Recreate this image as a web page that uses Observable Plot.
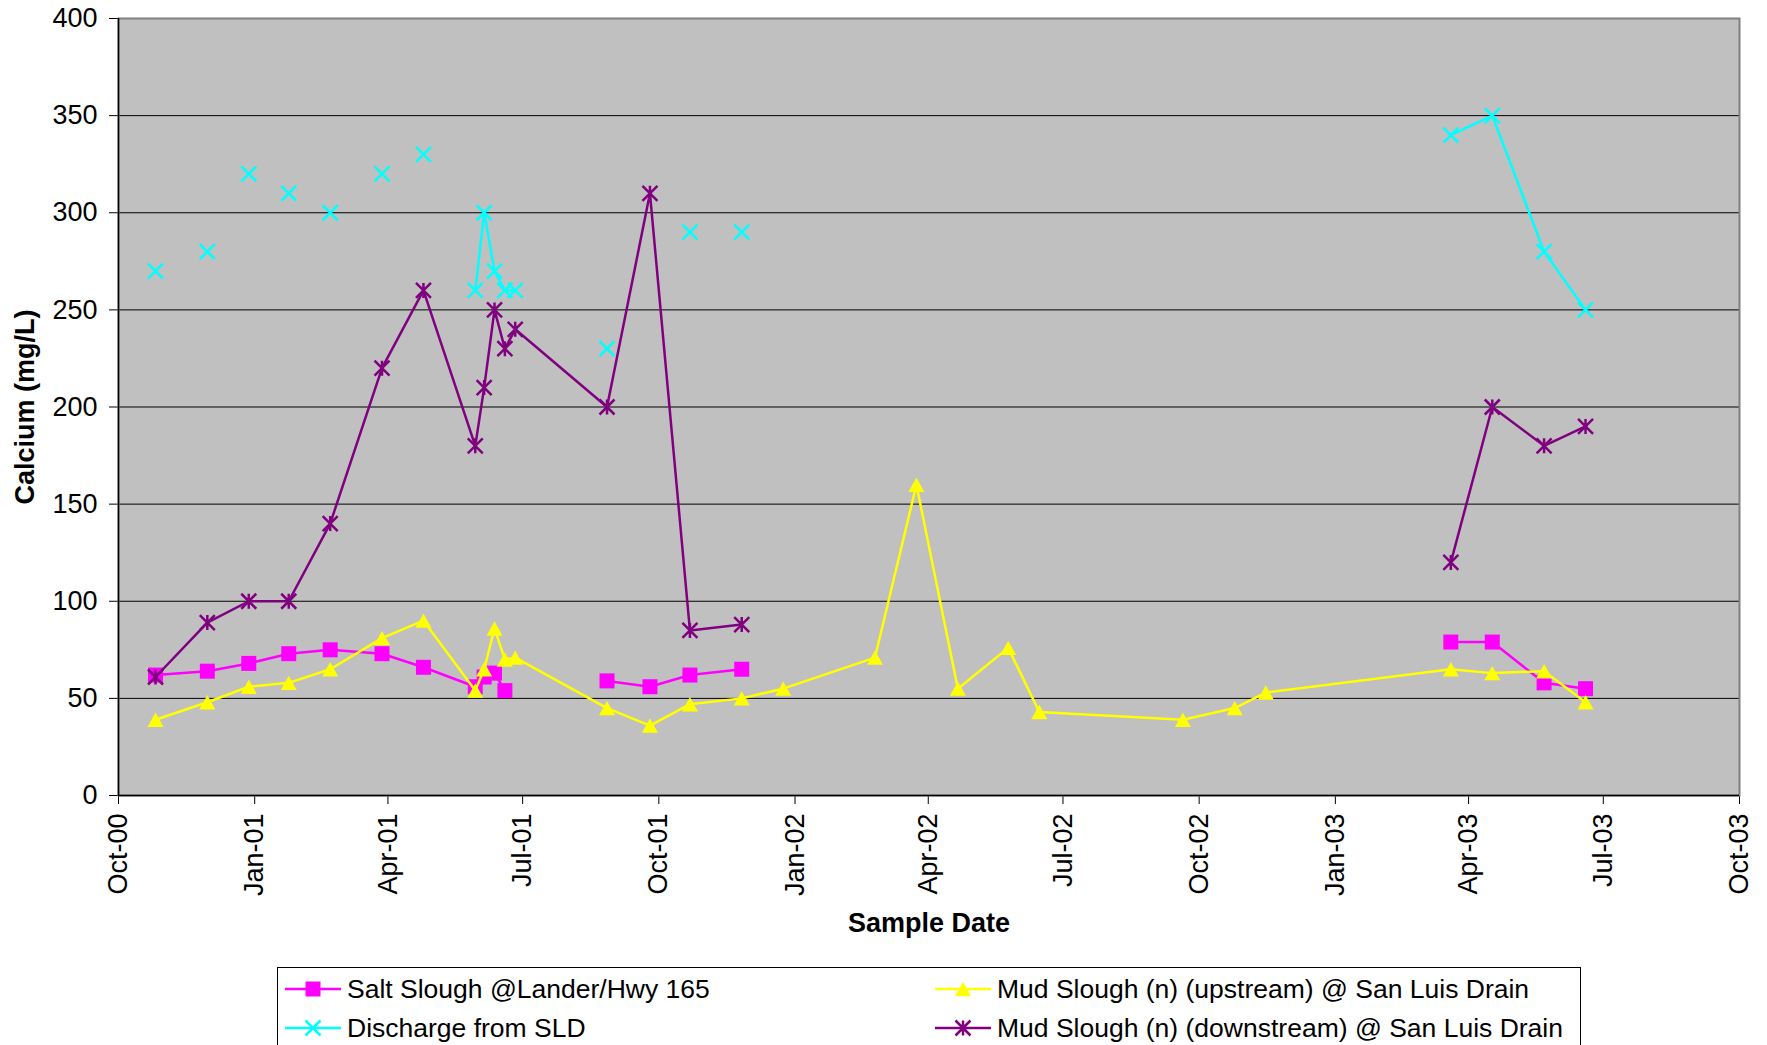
<!DOCTYPE html>
<html><head><meta charset="utf-8">
<script src="https://cdn.jsdelivr.net/npm/d3@7"></script>
<script src="https://cdn.jsdelivr.net/npm/@observablehq/plot@0.6"></script>
<style>
html,body{margin:0;padding:0;overflow:hidden;background:#fff;}
#wrap{position:relative;width:1767px;height:1045px;}
#legend{position:absolute;left:277px;top:967px;width:1304px;height:110px;border:1px solid #000;box-sizing:border-box;font-family:Arial,"Liberation Sans",sans-serif;font-size:26.5px;color:#000;}
.item{position:absolute;display:flex;align-items:center;white-space:nowrap;height:30px;}
.item svg{margin-right:6px;}
</style></head>
<body><div id="wrap"><div id="chart"></div><div id="legend"></div></div>
<script>
// ---- data ----
const dates = ["2000-10-26","2000-11-30","2000-12-28","2001-01-24","2001-02-21","2001-03-28","2001-04-25",
  "2001-05-30","2001-06-05","2001-06-12","2001-06-19","2001-06-26","2001-08-27","2001-09-25","2001-10-22",
  "2001-11-26","2001-12-24","2002-02-24","2002-03-24","2002-04-21","2002-05-25","2002-06-15","2002-09-20",
  "2002-10-25","2002-11-15","2003-03-20","2003-04-17","2003-05-22","2003-06-19"];
const saltSlough = [62,64,68,73,75,73,66,56,61,63,54,null,59,56,62,65,null,null,null,null,null,null,null,null,null,79,79,58,55];
const mudUpstream = [39,48,56,58,65,81,90,54,65,86,70,71,45,36,47,50,55,71,160,55,76,43,39,45,53,65,63,64,48];
const discharge = [270,280,320,310,300,320,330,260,300,270,260,260,230,null,290,290,null,null,null,null,null,null,null,null,null,340,350,280,250];
const dischargeRun = [1,2,3,4,5,6,7,8,8,8,8,8,9,10,11,12,13,14,15,16,17,18,19,20,21,22,22,22,22];
const mudDownstream = [61,89,100,100,140,220,260,180,210,250,230,240,200,310,85,88,null,null,null,null,null,null,null,null,null,120,200,180,190];
const seriesNames = ["Salt Slough @Lander/Hwy 165","Mud Slough (n) (upstream) @ San Luis Drain","Discharge from SLD","Mud Slough (n) (downstream) @ San Luis Drain"];
const yTicks = [0,50,100,150,200,250,300,350,400];
const xTickDates = ["2000-10-01","2001-01-01","2001-04-01","2001-07-01","2001-10-01","2002-01-01","2002-04-01","2002-07-01","2002-10-01","2003-01-01","2003-04-01","2003-07-01","2003-10-01"];
const xDomain = ["2000-10-01","2003-10-01"];
const xTitle = "Sample Date";
const yTitle = "Calcium (mg/L)";

// ---- styles ----
const seriesColors = ["#FF00FF","#FFFF00","#00FFFF","#800080"];
const parse = d3.utcParse("%Y-%m-%d");
const mk = (fn) => ({draw(ctx, size){ const r = Math.sqrt(size / Math.PI); fn(ctx, r); }});
const symSquare = mk((c,r)=>{ c.rect(-r,-r,2*r,2*r); });
const symTriangle = mk((c,r)=>{ c.moveTo(0,-0.9*r); c.lineTo(r,0.9*r); c.lineTo(-r,0.9*r); c.closePath(); });
const symX = mk((c,r)=>{ c.moveTo(-r,-r); c.lineTo(r,r); c.moveTo(-r,r); c.lineTo(r,-r); });
const symStar = mk((c,r)=>{ c.moveTo(-r,-r); c.lineTo(r,r); c.moveTo(-r,r); c.lineTo(r,-r); c.moveTo(0,-r); c.lineTo(0,r); });
const seriesStyle = [
  {symbol: symSquare, r: 7.5, filled: true},
  {symbol: symTriangle, r: 8, filled: true},
  {symbol: symX, r: 7.5, filled: false},
  {symbol: symStar, r: 7.5, filled: false}
];
const seriesValues = [saltSlough, mudUpstream, discharge, mudDownstream];

const rows = seriesValues.map((vals, s) => dates.map((d, i) => ({
  date: parse(d), value: vals[i], run: s === 2 ? dischargeRun[i] : 0
})));

const marks = [
  Plot.frame({fill: "#C0C0C0", stroke: "none"}),
  Plot.ruleY(yTicks, {stroke: "#000", strokeWidth: 1}),
  Plot.frame({stroke: "#808080", strokeWidth: 2, fill: "none"}),
  Plot.ruleX([parse(xDomain[0])], {stroke: "#000", strokeWidth: 1.5}),
  Plot.ruleY([0], {stroke: "#000", strokeWidth: 1.5})
];
rows.forEach((data, s) => {
  marks.push(Plot.line(data, {x: "date", y: "value", z: s === 2 ? "run" : null, stroke: seriesColors[s], strokeWidth: 2.5}));
  const st = seriesStyle[s];
  marks.push(Plot.dot(data.filter(d => d.value != null), {
    x: "date", y: "value", symbol: st.symbol, r: st.r,
    fill: st.filled ? seriesColors[s] : "none",
    stroke: st.filled ? "none" : seriesColors[s],
    strokeWidth: st.filled ? 0 : 2.5
  }));
});
marks.push(Plot.text([yTitle], {frameAnchor: "left", textAnchor: "middle", lineAnchor: "middle", rotate: -90, dx: -93, fontWeight: "bold", fontSize: 27, fill: "#000"}));
marks.push(Plot.text([xTitle], {frameAnchor: "bottom", textAnchor: "middle", lineAnchor: "middle", dy: 128, fontWeight: "bold", fontSize: 27, fill: "#000"}));

const chart = Plot.plot({
  width: 1767, height: 960,
  marginLeft: 118, marginRight: 28, marginTop: 18, marginBottom: 165,
  style: {fontFamily: "Arial, 'Liberation Sans', sans-serif", fontSize: "27px", color: "#000", background: "#fff", overflow: "visible"},
  x: {type: "utc", domain: xDomain.map(parse), ticks: xTickDates.map(parse), tickFormat: d3.utcFormat("%b-%y"), tickRotate: -90, tickSize: 9, tickPadding: 9, label: null},
  y: {domain: [0, 400], ticks: yTicks, tickSize: 9, tickPadding: 12, label: null},
  marks
});
document.getElementById("chart").appendChild(chart);

// ---- legend ----
const legend = d3.select("#legend");
const legendPos = [[7, 6], [657, 6], [7, 45], [657, 45]];
const order = [0, 1, 2, 3];
order.forEach((s, k) => {
  const item = legend.append("div").attr("class", "item")
    .style("left", legendPos[k][0] + "px").style("top", legendPos[k][1] + "px");
  const svg = item.append("svg").attr("width", 56).attr("height", 30);
  svg.append("line").attr("x1", 0).attr("x2", 56).attr("y1", 15).attr("y2", 15)
    .attr("stroke", seriesColors[s]).attr("stroke-width", 2.5);
  const st = seriesStyle[s];
  svg.append("path").attr("transform", "translate(28,15)")
    .attr("d", d3.symbol().type(st.symbol).size(Math.PI * st.r * st.r)())
    .attr("fill", st.filled ? seriesColors[s] : "none")
    .attr("stroke", st.filled ? "none" : seriesColors[s])
    .attr("stroke-width", 2.5);
  item.append("span").text(seriesNames[s]);
});
</script></body></html>
